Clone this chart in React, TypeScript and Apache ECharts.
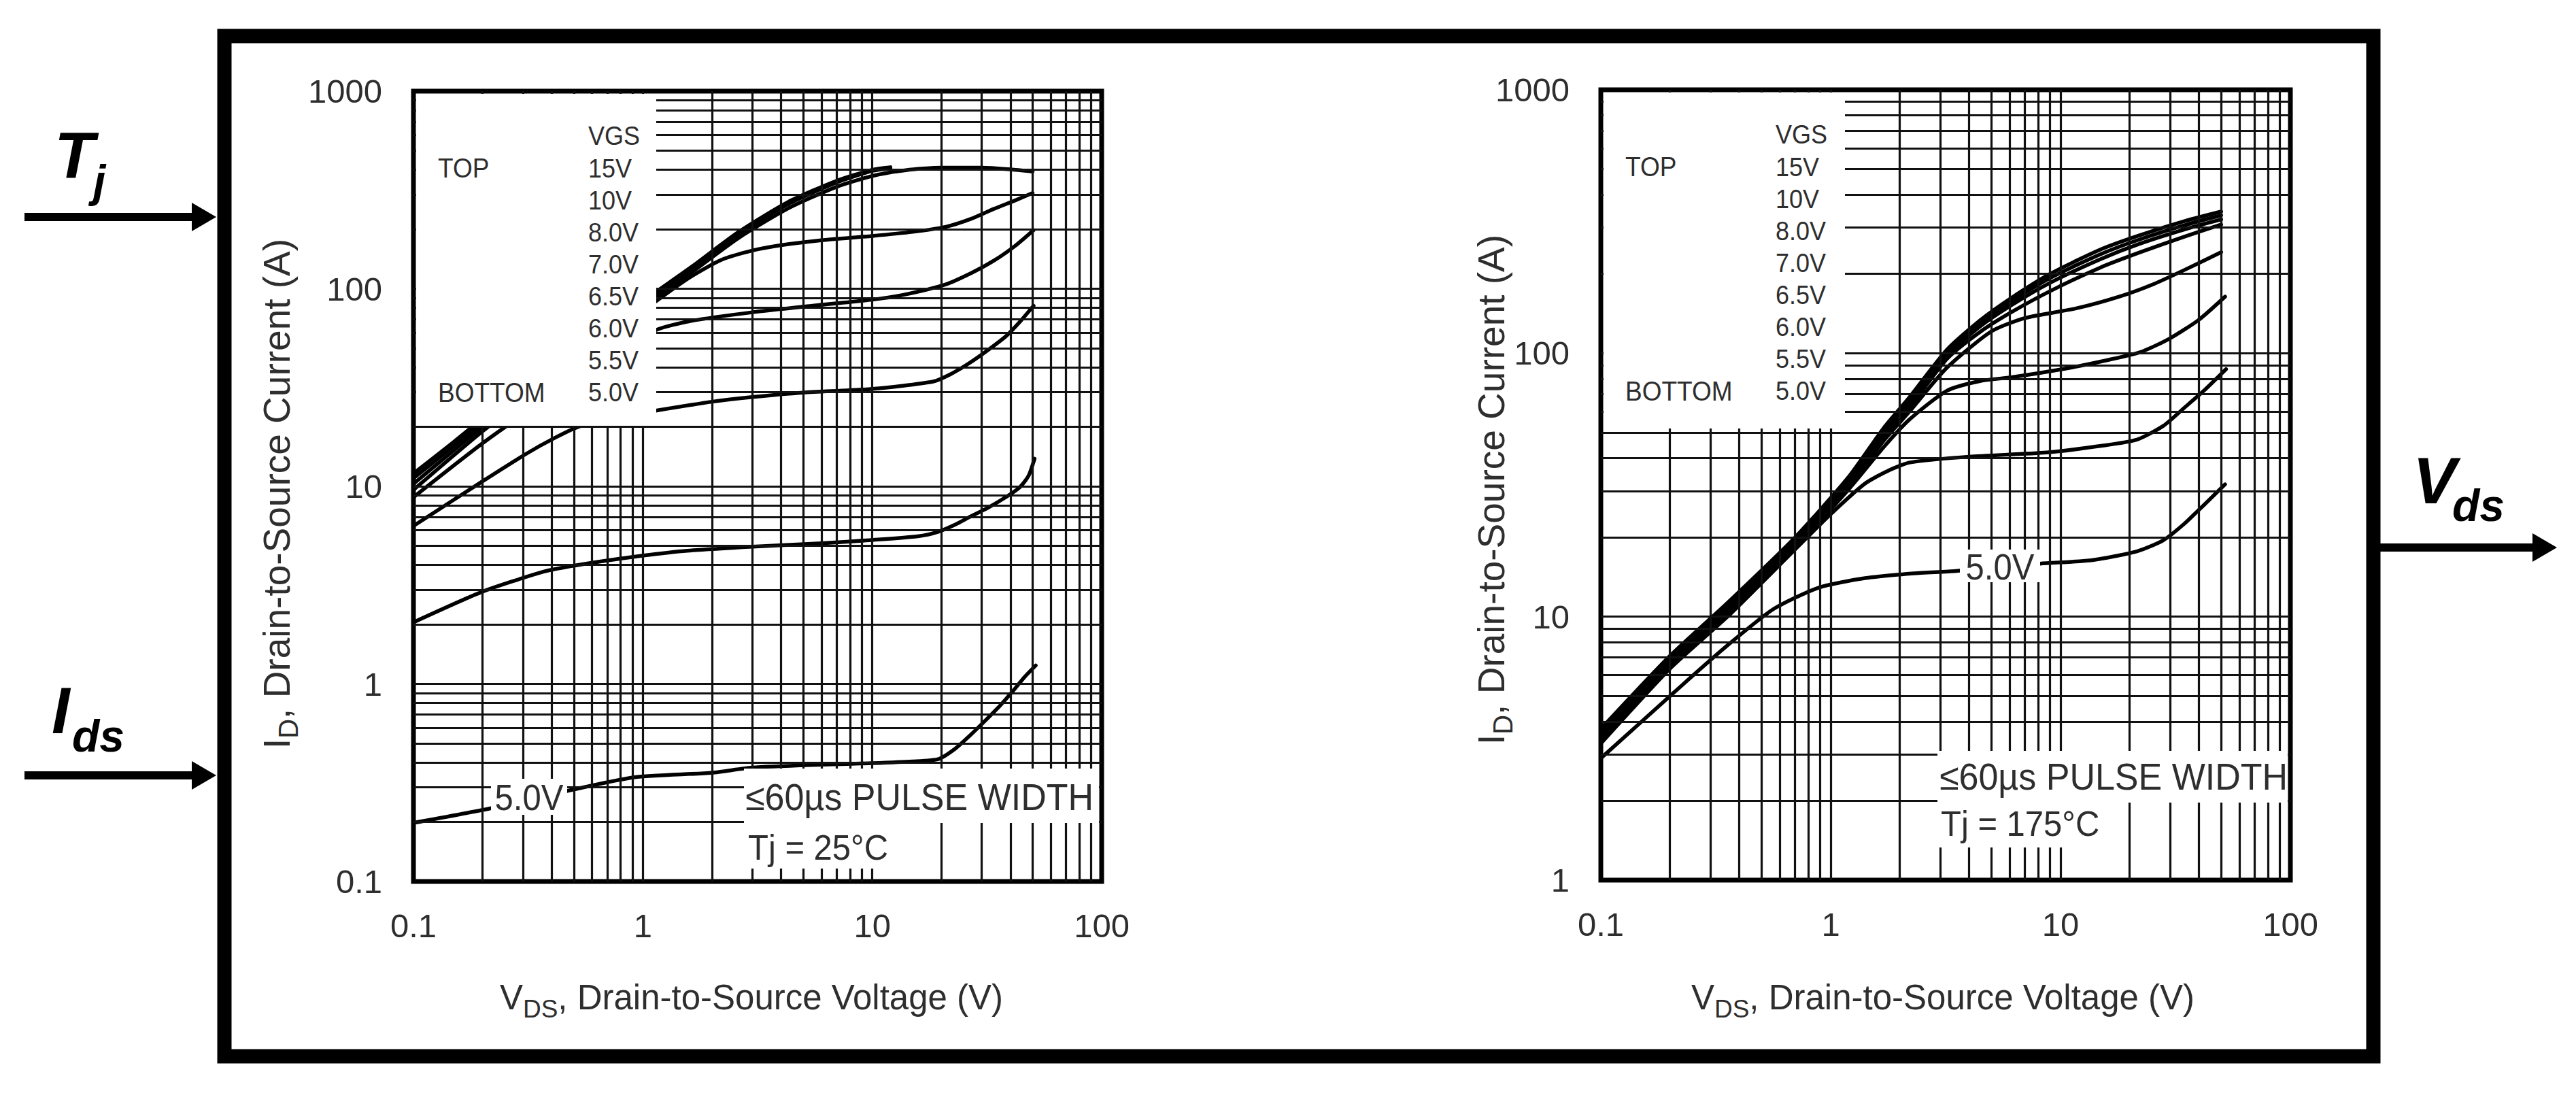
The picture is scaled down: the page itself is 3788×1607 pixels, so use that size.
import React, { useEffect, useRef } from 'react';
import * as echarts from 'echarts';

const FONT = '"Liberation Sans", Arial, Helvetica, sans-serif';
const TEXT = '#2e2e2e';

// ---------- Tj = 25 °C : ID (A) vs VDS (V) ----------
const t25_15V = [[0.1, 11.6], [0.15, 16.8], [0.2, 22], [0.35, 36], [0.6, 57], [0.9, 79], [1.15, 97], [1.6, 127], [2.6, 193], [4.3, 275], [7, 352], [10, 400], [12, 412]];
const t25_10V = [[0.1, 11.0], [0.15, 16], [0.2, 21], [0.35, 34.5], [0.6, 55], [0.9, 76], [1.15, 94], [1.6, 123], [2.6, 187], [4.3, 268], [7, 345], [10, 395], [12, 406]];
const t25_8V = [[0.1, 10.3], [0.2, 20], [0.35, 33], [0.6, 53], [0.9, 73], [1.15, 91], [1.6, 119], [2.6, 180], [4.3, 255], [7, 328], [10, 372], [14, 398], [20, 410], [30, 410], [40, 402], [50, 392]];
const t25_7V = [[0.1, 9.6], [0.2, 19], [0.35, 31], [0.6, 49], [0.9, 70], [1.15, 87], [1.6, 114], [2.2, 140], [3, 156], [4, 166], [6, 176], [10, 185], [15, 194], [21, 206], [27, 226], [34, 254], [42, 280], [50, 305]];
const t25_6V5 = [[0.1, 8.8], [0.2, 16.5], [0.35, 26], [0.6, 39], [0.9, 52], [1.15, 62], [1.6, 68.5], [3, 76], [5.5, 82], [10, 88], [13.6, 93], [20.8, 105], [27, 120], [34, 139], [42, 165], [50.5, 198]];
const t25_6V = [[0.1, 6.3], [0.2, 10.6], [0.31, 14.6], [0.41, 17.5], [0.53, 20.1], [0.8, 22.5], [1.15, 24.2], [2, 26.8], [3, 28.3], [5, 29.8], [10, 31.1], [18.4, 33.9], [22, 37], [26.3, 41.8], [32, 49], [38.4, 57.7], [44, 68], [50.5, 82]];
const t25_5V5 = [[0.1, 2.05], [0.2, 2.93], [0.37, 3.7], [0.51, 3.98], [0.92, 4.4], [1.5, 4.7], [3, 4.95], [6, 5.15], [10, 5.35], [16, 5.6], [19.5, 5.9], [23, 6.4], [26.3, 6.95], [32, 7.8], [38.4, 8.84], [44, 9.9], [48, 11.3], [51, 13.8]];
const t25_5V = [[0.1, 0.198], [0.215, 0.234], [0.466, 0.287], [0.92, 0.337], [2, 0.355], [3, 0.377], [6, 0.39], [10, 0.397], [15, 0.405], [19.5, 0.417], [23, 0.47], [26.3, 0.54], [31, 0.65], [36.2, 0.78], [42, 0.95], [46, 1.08], [51.6, 1.24]];

// ---------- Tj = 175 °C ----------
const t175_15V = [[0.1, 3.75], [0.2, 7.1], [0.36, 11.4], [0.7, 20], [1.2, 34], [1.7, 52], [2.2, 68], [3.2, 103], [4.5, 134], [6.1, 162], [9, 200], [15, 248], [22, 280], [35, 318], [50, 345]];
const t175_10V = [[0.1, 3.65], [0.2, 6.95], [0.36, 11.1], [0.7, 19.6], [1.2, 33.2], [1.7, 50.5], [2.2, 66], [3.2, 100.5], [4.5, 130.5], [6.1, 157], [9, 193], [15, 238], [22, 270], [35, 307], [50, 334]];
const t175_8V = [[0.1, 3.55], [0.2, 6.8], [0.36, 10.8], [0.7, 19.2], [1.2, 32.4], [1.7, 49], [2.2, 64], [3.2, 98], [4.5, 127], [6.1, 152], [9, 185], [15, 228], [22, 260], [35, 296], [50, 322]];
const t175_7V = [[0.1, 3.45], [0.2, 6.65], [0.36, 10.6], [0.7, 18.8], [1.2, 31.6], [1.7, 47.5], [2.2, 62], [3.2, 95], [4.5, 121], [6.1, 143], [9, 172], [15, 212], [22.3, 242], [35, 278], [50, 308]];
const t175_6V5 = [[0.1, 3.4], [0.2, 6.55], [0.36, 10.45], [0.7, 18.5], [1.2, 31], [1.7, 46.5], [2.2, 60], [3.2, 88], [5, 121], [7, 136], [11.7, 148], [18, 164], [25.4, 183], [35, 208], [50, 242]];
const t175_6V = [[0.1, 3.35], [0.2, 6.45], [0.36, 10.3], [0.7, 18.3], [1.2, 30.5], [1.7, 44], [2.2, 56], [3.2, 72], [4.5, 78.5], [6.1, 81], [10.2, 87], [15, 93], [22.3, 101], [30, 114], [40, 134], [52, 164]];
const t175_5V5 = [[0.1, 3.3], [0.2, 6.35], [0.36, 10.1], [0.7, 18], [1.0, 24.5], [1.41, 32], [1.8, 36], [2.22, 38.5], [4, 40.5], [8.7, 42], [15, 44.5], [21.5, 47], [28, 53], [34.5, 62], [42, 72], [52.5, 87]];
const t175_5V = [[0.1, 2.9], [0.226, 5.5], [0.357, 7.8], [0.565, 10.7], [0.89, 12.9], [1.41, 14], [2.3, 14.6], [3.5, 14.9], [8.15, 15.9], [13.8, 16.4], [21.5, 17.7], [28, 19.5], [34.5, 22.5], [42, 26.5], [52, 31.8]];

const leftCurves = [t25_15V, t25_10V, t25_8V, t25_7V, t25_6V5, t25_6V, t25_5V5, t25_5V];
const rightCurves = [t175_15V, t175_10V, t175_8V, t175_7V, t175_6V5, t175_6V, t175_5V5, t175_5V];

// legend / annotation text
const vgsLabels = ['15V', '10V', '8.0V', '7.0V', '6.5V', '6.0V', '5.5V', '5.0V'];
const pulseText = '≤60µs PULSE WIDTH';
const tjLeft = 'Tj = 25°C';
const tjRight = 'Tj = 175°C';

// log grid multipliers
const gridMultipliers = [1, 2, 3, 4, 5, 6, 7, 8, 9];
function gridValues(minExp: number, maxExp: number) {
  const out: number[] = [];
  for (let e = minExp; e < maxExp; e++) {
    for (const m of gridMultipliers) {
      if (e === minExp && m === 1) continue;
      out.push(+(m * Math.pow(10, e)).toPrecision(6));
    }
  }
  return out;
}
const xGrid = gridValues(-1, 2);
const yGridLeft = gridValues(-1, 3);
const yGridRight = gridValues(0, 3);

const fmt = (v: number) => String(Math.pow(10, Math.round(Math.log10(v))));

// layout (pixels)
const GL = { left: 608, top: 134, width: 1012, height: 1162 };
const GR = { left: 2354, top: 132, width: 1014, height: 1162 };

function buildOption() {
  const xAxis = (gi: number) => ({
    type: 'log', logBase: 10, gridIndex: gi, min: 0.1, max: 100,
    axisLine: { show: false }, axisTick: { show: false }, splitLine: { show: false },
    axisLabel: { fontSize: 49, color: TEXT, fontFamily: FONT, margin: 40, formatter: fmt },
  });
  const yAxis = (gi: number, min: number) => ({
    type: 'log', logBase: 10, gridIndex: gi, min, max: 1000,
    axisLine: { show: false }, axisTick: { show: false }, splitLine: { show: false },
    axisLabel: { fontSize: 49, color: TEXT, fontFamily: FONT, margin: 46, formatter: fmt },
  });
  const gridSeries = (gi: number, ys: number[], dummy: number[]) => ({
    type: 'line', xAxisIndex: gi, yAxisIndex: gi, data: [dummy], symbol: 'none', showSymbol: false,
    lineStyle: { opacity: 0 }, z: 1, silent: true,
    markLine: {
      silent: true, symbol: ['none', 'none'], label: { show: false },
      lineStyle: { color: '#111', width: 3.2, type: 'solid' },
      emphasis: { disabled: true },
      data: [...xGrid.map((v) => ({ xAxis: v })), ...ys.map((v) => ({ yAxis: v }))],
    },
  });
  const curve = (gi: number, data: number[][]) => ({
    type: 'line', xAxisIndex: gi, yAxisIndex: gi, data, smooth: 0.22,
    symbol: 'none', showSymbol: false, silent: true, z: 3,
    lineStyle: { color: '#000', width: 5.5, join: 'round', cap: 'round' },
  });

  const txt = (x: number, y: number, text: string, size: number, extra: any = {}) => ({
    type: 'text', x, y, z: 12, silent: true, ...extra,
    style: {
      text, fontSize: size, fontFamily: FONT, fill: TEXT,
      align: extra.align || 'left', textAlign: extra.align || 'left',
      verticalAlign: 'middle', textVerticalAlign: 'middle',
      ...(extra.style || {}),
    },
  });
  const whiteRect = (x: number, y: number, w: number, h: number) => ({
    type: 'rect', z: 10, silent: true, shape: { x, y, width: w, height: h }, style: { fill: '#fff' },
  });
  const arrow = (x1: number, x2: number, y: number) => ([
    { type: 'line', z: 12, silent: true, shape: { x1, y1: y, x2: x2 - 20, y2: y }, style: { stroke: '#000', lineWidth: 12 } },
    { type: 'polygon', z: 12, silent: true, shape: { points: [[x2 - 36, y - 21], [x2, y], [x2 - 36, y + 21]] }, style: { fill: '#000' } },
  ]);
  const bold = (x: number, y: number, text: string, size: number) => ({
    type: 'text', x, y, z: 12, silent: true,
    style: { text, fontSize: size, fontFamily: FONT, fontWeight: 'bold', fontStyle: 'italic', fill: '#000', align: 'left', textAlign: 'left', verticalAlign: 'middle', textVerticalAlign: 'middle' },
  });
  const legend = (g: { left: number; top: number }, rowTop: number) => {
    const els: any[] = [];
    const step = 47.1;
    els.push(txt(g.left + 36, rowTop + step, 'TOP', 37, { scaleY: 1.08 }));
    els.push(txt(g.left + 36, rowTop + step * 8, 'BOTTOM', 37, { scaleY: 1.08 }));
    els.push(txt(g.left + 257, rowTop, 'VGS', 36, { scaleY: 1.08 }));
    vgsLabels.forEach((l, i) => els.push(txt(g.left + 257, rowTop + step * (i + 1), l, 36, { scaleY: 1.08 })));
    return els;
  };
  const xTitle = (cx: number) => ({
    type: 'text', x: cx, y: 1466, z: 12, silent: true,
    style: {
      text: '{a|V}{b|DS}{a|, Drain-to-Source Voltage (V)}',
      align: 'center', textAlign: 'center', verticalAlign: 'middle', textVerticalAlign: 'middle',
      rich: {
        a: { fontSize: 51, fontFamily: FONT, fill: TEXT, lineHeight: 72 },
        b: { fontSize: 37, fontFamily: FONT, fill: TEXT, lineHeight: 20, verticalAlign: 'bottom' },
      },
    },
  });
  const yTitle = (cx: number, cy: number) => ({
    type: 'text', x: cx, y: cy, rotation: Math.PI / 2, z: 12, silent: true,
    style: {
      text: '{a|I}{b|D}{a|, Drain-to-Source Current (A)}',
      align: 'center', textAlign: 'center', verticalAlign: 'middle', textVerticalAlign: 'middle',
      rich: {
        a: { fontSize: 55, fontFamily: FONT, fill: TEXT, lineHeight: 74 },
        b: { fontSize: 40, fontFamily: FONT, fill: TEXT, lineHeight: 22, verticalAlign: 'bottom' },
      },
    },
  });

  const elements: any[] = [
    // outer frame
    { type: 'rect', z: 12, silent: true, shape: { x: 330, y: 53, width: 3160, height: 1500 }, style: { fill: 'none', stroke: '#000', lineWidth: 21 } },
    ...arrow(36, 318, 319),
    ...arrow(36, 318, 1140),
    ...arrow(3500, 3760, 805),
    bold(80, 228, 'T', 96), bold(137, 266, 'j', 66),
    bold(76, 1044, 'I', 96), bold(106, 1082, 'ds', 66),
    bold(3548, 706, 'V', 96), bold(3606, 743, 'ds', 66),
    // white masks
    whiteRect(GL.left + 4, GL.top + 4, 965 - GL.left - 4, 626 - GL.top - 4),
    whiteRect(GR.left + 4, GR.top + 4, 2713 - GR.left - 4, 630 - GR.top - 4),
    whiteRect(1094, 1130, 1616 - 1094, 80),
    whiteRect(1094, 1210, 1340 - 1094, 67),
    whiteRect(2849, 1104, 3364 - 2849, 76),
    whiteRect(2849, 1180, 3090 - 2849, 66),
    whiteRect(722, 1145, 112, 53),
    whiteRect(2882, 808, 118, 48),
    // legends
    ...legend(GL, 200),
    ...legend(GR, 198),
    // annotations
    txt(1096, 1172, pulseText, 52, { scaleY: 1.05 }),
    txt(1100, 1247, tjLeft, 49, { scaleY: 1.05 }),
    txt(2852, 1142, pulseText, 52, { scaleY: 1.05 }),
    txt(2854, 1212, tjRight, 49, { scaleY: 1.05 }),
    txt(778, 1172, '5.0V', 49, { align: 'center', scaleY: 1.1 }),
    txt(2941, 833, '5.0V', 49, { align: 'center', scaleY: 1.1 }),
    // axis titles
    xTitle(1105), xTitle(2857),
    yTitle(407, 726), yTitle(2193, 720),
  ];

  return {
    animation: false,
    backgroundColor: '#ffffff',
    grid: [
      { ...GL, show: true, borderColor: '#000', borderWidth: 7, backgroundColor: 'transparent', containLabel: false },
      { ...GR, show: true, borderColor: '#000', borderWidth: 7, backgroundColor: 'transparent', containLabel: false },
    ],
    xAxis: [xAxis(0), xAxis(1)],
    yAxis: [yAxis(0, 0.1), yAxis(1, 1)],
    series: [
      gridSeries(0, yGridLeft, [1, 1]),
      gridSeries(1, yGridRight, [1, 10]),
      ...leftCurves.map((d) => curve(0, d)),
      ...rightCurves.map((d) => curve(1, d)),
    ],
    graphic: { elements },
  };
}

export default function App() {
  const ref = useRef<HTMLDivElement>(null);
  useEffect(() => {
    if (!ref.current) return;
    const chart = echarts.init(ref.current, null, { renderer: 'svg' });
    chart.setOption(buildOption() as any);
    return () => chart.dispose();
  }, []);
  return (
    <div
      ref={ref}
      style={{ position: 'absolute', left: 0, top: 0, width: 3788, height: 1607, background: '#fff' }}
    />
  );
}
